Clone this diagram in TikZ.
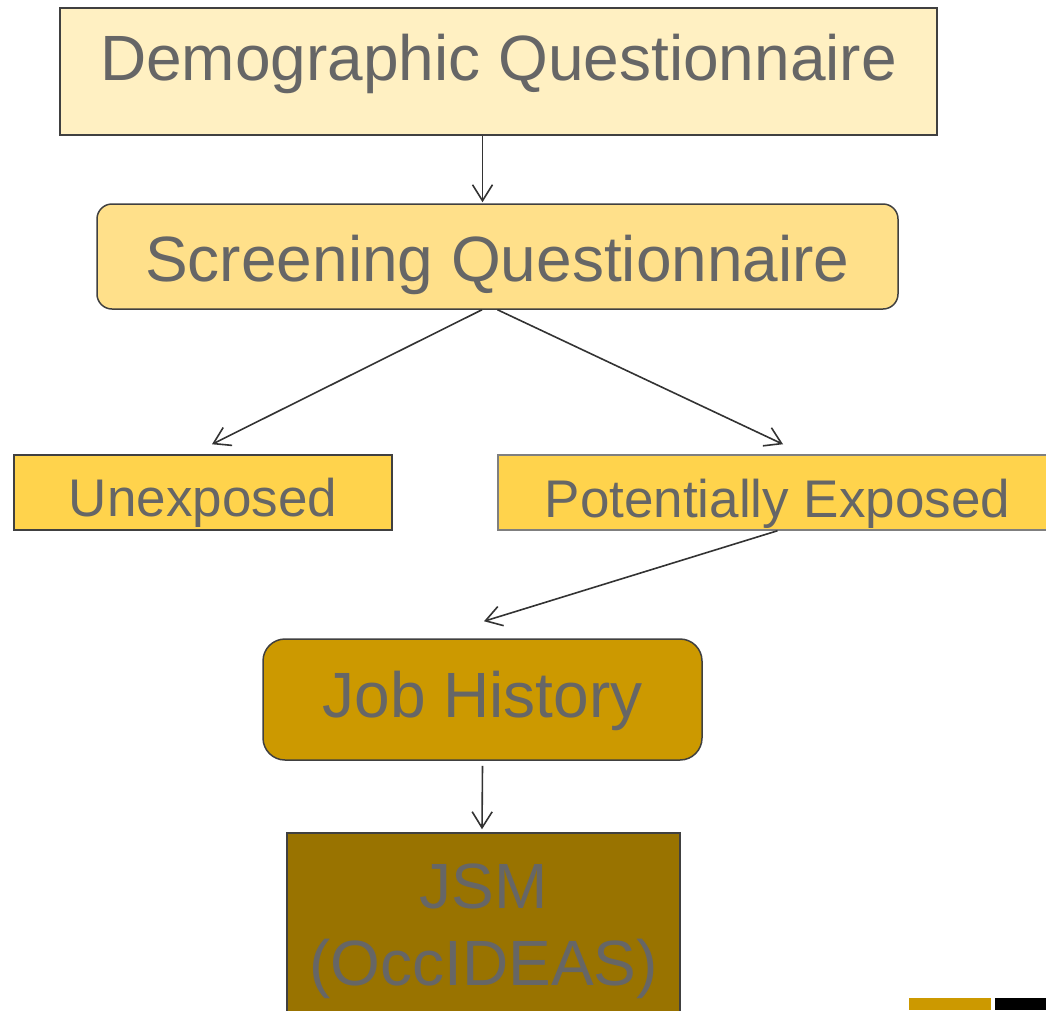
\documentclass[tikz,border=0pt]{standalone}
\usepackage{fontspec}
\setmainfont{Liberation Sans}
\usetikzlibrary{arrows.meta,calc}
\definecolor{txt}{HTML}{666666}
\definecolor{edge}{HTML}{404040}
\definecolor{edgelight}{HTML}{7F7F7F}
\definecolor{linec}{HTML}{333333}
\definecolor{demofill}{HTML}{FFF0C2}
\definecolor{scrfill}{HTML}{FFE08A}
\definecolor{expfill}{HTML}{FFD34C}
\definecolor{jobfill}{HTML}{CC9900}
\definecolor{jsmfill}{HTML}{997300}
\begin{document}
\begin{tikzpicture}[x=1pt,y=-1pt,
  box/.style={draw=edge, line width=1.5pt, text=txt, inner sep=0pt,
              font=\fontsize{64}{77}\selectfont},
  oneline/.style={text depth=0pt},
  smallbox/.style={box, oneline, font=\fontsize{53}{64}\selectfont},
  arr/.style={draw=linec, line width=1.6pt,
              -{Straight Barb[length=16pt,width=20pt,line width=1.6pt]}}]
\useasboundingbox (0,0) rectangle (1046,1010);
\clip (0,0) rectangle (1046,1010);

\node[box, oneline, fill=demofill, minimum width=877pt, minimum height=127pt, text height=17pt]
  (demo) at (498.5,71.5) {Demographic Questionnaire};
\node[box, oneline, fill=scrfill, rounded corners=15pt, minimum width=801pt, minimum height=105pt, text height=49pt]
  (scr) at (497.5,256.5) {Screening Questionnaire};
\node[smallbox, fill=expfill, minimum width=378pt, minimum height=75pt, text height=48pt]
  (unexp) at (203,492.5) {Unexposed};
\node[smallbox, draw=edgelight, fill=expfill, minimum width=559pt, minimum height=75pt, text height=49pt]
  (pot) at (777.5,492.5) {Potentially Exposed};
\node[box, oneline, fill=jobfill, rounded corners=22pt, minimum width=439pt, minimum height=121pt, text height=36pt]
  (job) at (482.5,699.5) {Job History};
\node[box, fill=jsmfill, minimum width=393pt, minimum height=196pt, align=center]
  (jsm) at (483.5,931) {JSM\\(OccIDEAS)};

\draw[arr] (demo.south -| job.north) -- ([yshift=1pt]scr.north -| job.north);
\draw[arr] ([xshift=-15.5pt]scr.south) -- ([shift={(9pt,10pt)}]unexp.north);
\draw[arr] (scr.south) -- ([shift={(5.5pt,10pt)}]pot.north);
\draw[arr] (pot.south) -- ([shift={(1.5pt,17pt)}]job.north);
\draw[arr] ([yshift=-5pt]job.south) -- ([shift={(-1.5pt,3pt)}]jsm.north);

\fill[jobfill] (909,998) rectangle (991,1010);
\fill[black] (995,998) rectangle (1046,1010);
\end{tikzpicture}
\end{document}
